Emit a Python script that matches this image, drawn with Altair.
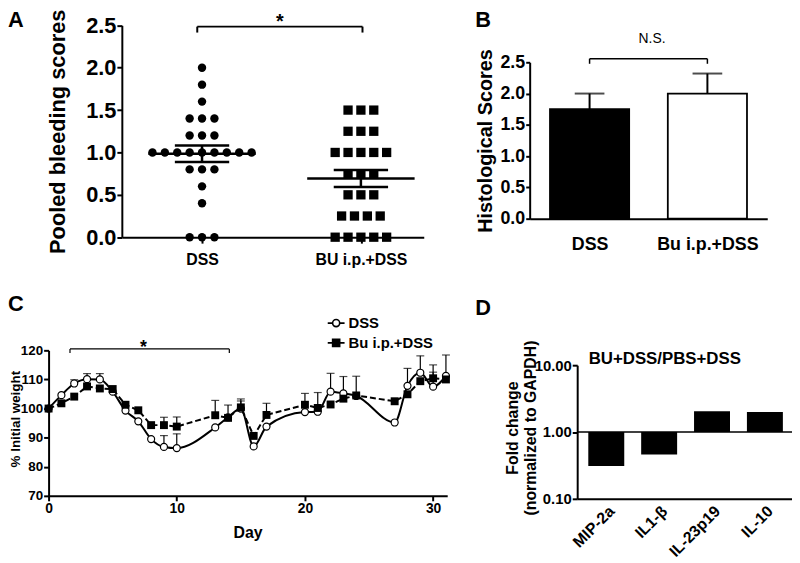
import altair as alt
import numpy as np
import pandas as pd

FONT = "Liberation Sans"
W, H = 792, 555

# ---------------- data ----------------
# Panel A: pooled bleeding scores (dot plot)
a_groups = ["DSS", "BU i.p.+DSS"]
a_dss_levels = [2.0, 1.8, 1.6, 1.4, 1.2, 1.0, 0.8, 0.6, 0.4, 0.0]
a_dss_counts = [1, 1, 1, 3, 3, 9, 3, 1, 1, 3]
a_bu_levels = [1.5, 1.25, 1.0, 0.75, 0.5, 0.25, 0.0]
a_bu_counts = [3, 3, 5, 3, 3, 4, 5]

# Panel B: histological scores
b_groups = ["DSS", "Bu i.p.+DSS"]
b_means = [1.75, 2.0]
b_sems = [0.25, 0.32]

# Panel C: % initial weight
c_series = ["DSS", "Bu i.p.+DSS"]
c_days = [0, 1, 2, 3, 4, 5, 6, 7, 8, 9, 10, 13, 14, 15, 16, 17, 20, 21, 22, 23, 24, 27, 28, 29, 30, 31]
c_dss = [100, 104.6, 108.6, 110.1, 110.0, 105.8, 99.3, 95.6, 89.5, 86.8, 86.4, 93.5, 97.0, 100.0,
         87.0, 93.8, 98.8, 98.9, 105.8, 105.2, 104.3, 95.2, 107.8, 112.3, 107.5, 111.2]
c_dss_err = [0, 0, 1.3, 1.9, 2.0, 0, 0, 0, 0, 3.9, 4.9, 0, 0, 2.6,
             0, 0, 0, 0, 6.3, 5.8, 0, 0, 6.0, 5.8, 5.0, 7.2]
c_bu = [100, 101.8, 104.1, 107.6, 106.9, 106.7, 101.3, 99.4, 94.3, 94.3, 93.8, 97.7, 96.8, 100.4,
        90.6, 97.8, 101.3, 100.2, 101.4, 103.4, 104.5, 102.5, 104.9, 109.4, 110.4, 110.0]
c_bu_err = [0, 0, 0, 0, 0, 0, 0, 0, 0, 2.7, 3.3, 5.1, 4.4, 2.9,
            0, 4.0, 3.9, 5.3, 0, 0, 6.6, 0, 0, 0, 4.6, 0]

# Panel D: fold change
d_genes = ["MIP-2a", "IL1-\u03b2", "IL-23p19", "IL-10"]
d_fold = [0.31, 0.46, 2.05, 2.0]

# ---------------- helpers ----------------
def lin(domain, rng, **kw):
    return alt.Scale(domain=domain, range=rng, nice=False, zero=False, **kw)

AXC = dict(domainColor="black", domainWidth=2, tickColor="black", tickWidth=2,
           labelColor="black", titleColor="black", labelFont=FONT, titleFont=FONT,
           grid=False, labelFontWeight="bold", titleFontWeight="bold")

layers = []

# ================= Panel A =================
AXS = lin([0.4953, 2.3956], [115, 420])
AYS = lin([0, 2.5], [228.7, 14.7])

rows = []
for gi, (levels, counts, sp) in enumerate([(a_dss_levels, a_dss_counts, 0.078),
                                           (a_bu_levels, a_bu_counts, 0.081)]):
    for lv, n in zip(levels, counts):
        for k in range(n):
            rows.append({"group": a_groups[gi], "pos": gi + 1 + (k - (n - 1) / 2) * sp, "score": lv})
a_pts = pd.DataFrame(rows)

h_rows, v_rows = [], []
for gi, g in enumerate(a_groups):
    v = a_pts.loc[a_pts.group == g, "score"].to_numpy()
    m = v.mean()
    s = v.std(ddof=1) / np.sqrt(len(v))
    p = gi + 1
    h_rows += [{"x1": p - 0.338, "x2": p + 0.338, "y": m},
               {"x1": p - 0.171, "x2": p + 0.171, "y": m + s},
               {"x1": p - 0.171, "x2": p + 0.171, "y": m - s}]
    v_rows.append({"x": p, "lo": m - s, "hi": m + s})

a_xaxis = alt.Axis(orient="bottom", offset=228.7 - H, values=[1, 2],
                   labelExpr="datum.value == 1 ? 'DSS' : 'BU i.p.+DSS'",
                   tickSize=6, labelFontSize=16, labelPadding=9, labelFlush=False, title=None, **AXC)
a_yaxis = alt.Axis(orient="left", offset=-115, values=[0, 0.5, 1.0, 1.5, 2.0, 2.5], format=".1f",
                   tickSize=5, labelPadding=1, labelFontSize=22,
                   title="Pooled bleeding scores", titleFontSize=22, titleX=-53, titleY=121.7, **AXC)

layers.append(alt.Chart(a_pts[a_pts.group == a_groups[0]]).mark_point(
    shape="circle", filled=True, color="black", size=72, opacity=1).encode(
    x=alt.X("pos:Q", scale=AXS, axis=a_xaxis),
    y=alt.Y("score:Q", scale=AYS, axis=a_yaxis)))
layers.append(alt.Chart(a_pts[a_pts.group == a_groups[1]]).mark_point(
    shape="square", filled=True, color="black", size=88, opacity=1).encode(
    x=alt.X("pos:Q", scale=AXS, axis=None),
    y=alt.Y("score:Q", scale=AYS, axis=None)))
layers.append(alt.Chart(pd.DataFrame(h_rows)).mark_rule(color="black", strokeWidth=2.5).encode(
    x=alt.X("x1:Q", scale=AXS, axis=None), x2="x2:Q",
    y=alt.Y("y:Q", scale=AYS, axis=None)))
layers.append(alt.Chart(pd.DataFrame(v_rows)).mark_rule(color="black", strokeWidth=2.5).encode(
    x=alt.X("x:Q", scale=AXS, axis=None),
    y=alt.Y("lo:Q", scale=AYS, axis=None), y2="hi:Q"))
a_br = pd.DataFrame([{"x1": 0.97, "x2": 2.01, "y1": 2.485, "y2": 2.485},
                     {"x1": 0.97, "x2": 0.97, "y1": 2.485, "y2": 2.415},
                     {"x1": 2.01, "x2": 2.01, "y1": 2.485, "y2": 2.415}])
layers.append(alt.Chart(a_br).mark_rule(color="black", strokeWidth=2).encode(
    x=alt.X("x1:Q", scale=AXS, axis=None), x2="x2:Q",
    y=alt.Y("y1:Q", scale=AYS, axis=None), y2="y2:Q"))
layers.append(alt.Chart(pd.DataFrame([{"x": 1.49, "y": 2.47, "t": "*"}])).mark_text(
    fontSize=20, fontWeight="bold", font=FONT, color="black", baseline="alphabetic").encode(
    x=alt.X("x:Q", scale=AXS, axis=None), y=alt.Y("y:Q", scale=AYS, axis=None), text="t:N"))

# ================= Panel B =================
BXS = lin([0.4916, 2.508], [527, 767])
BYS = lin([0, 2.5], [210, 52])
b_df = pd.DataFrame({"group": b_groups, "pos": [1, 2], "mean": b_means, "sem": b_sems})
b_df["lo"] = b_df["pos"] - 0.336
b_df["hi"] = b_df["pos"] + 0.336
b_df["top"] = b_df["mean"] + b_df["sem"]
b_df["zero"] = 0.0

b_xaxis = alt.Axis(orient="bottom", offset=210 - H, values=[1, 2],
                   labelExpr="datum.value == 1 ? 'DSS' : 'Bu i.p.+DSS'",
                   ticks=False, labelFontSize=18, labelPadding=17, labelFlush=False, title=None, **AXC)
b_yaxis = alt.Axis(orient="left", offset=-527, values=[0, 0.5, 1.0, 1.5, 2.0, 2.5], format=".1f",
                   tickSize=4, labelPadding=1, labelFontSize=18,
                   title="Histological Scores", titleFontSize=20, titleX=-35, titleY=131, **AXC)

layers.append(alt.Chart(b_df).mark_rule(color="black", strokeWidth=2).encode(
    x=alt.X("pos:Q", scale=BXS, axis=None),
    y=alt.Y("mean:Q", scale=BYS, axis=None), y2="top:Q"))
layers.append(alt.Chart(b_df).mark_tick(orient="horizontal", size=30, thickness=2, color="black").encode(
    x=alt.X("pos:Q", scale=BXS, axis=None),
    y=alt.Y("top:Q", scale=BYS, axis=None)))
layers.append(alt.Chart(b_df).mark_rect(stroke="black", strokeWidth=1.8).encode(
    x=alt.X("lo:Q", scale=BXS, axis=b_xaxis), x2="hi:Q",
    y=alt.Y("mean:Q", scale=BYS, axis=b_yaxis), y2="zero:Q",
    fill=alt.Fill("group:N", scale=alt.Scale(domain=b_groups, range=["black", "white"]), legend=None)))
b_br = pd.DataFrame([{"x1": 1.0, "x2": 2.0, "y1": 2.556, "y2": 2.556},
                     {"x1": 1.0, "x2": 1.0, "y1": 2.556, "y2": 2.476},
                     {"x1": 2.0, "x2": 2.0, "y1": 2.556, "y2": 2.476}])
layers.append(alt.Chart(b_br).mark_rule(color="black", strokeWidth=1.5).encode(
    x=alt.X("x1:Q", scale=BXS, axis=None), x2="x2:Q",
    y=alt.Y("y1:Q", scale=BYS, axis=None), y2="y2:Q"))
layers.append(alt.Chart(pd.DataFrame([{"x": 1.53, "y": 2.805, "t": "N.S."}])).mark_text(
    fontSize=14, font=FONT, color="black", baseline="alphabetic").encode(
    x=alt.X("x:Q", scale=BXS, axis=None), y=alt.Y("y:Q", scale=BYS, axis=None), text="t:N"))

# ================= Panel C =================
CXS = lin([0, 31.1], [41, 443.7])
CYS = lin([70, 120], [490, 343])
c_long = pd.concat([
    pd.DataFrame({"series": c_series[0], "day": c_days, "value": c_dss, "err": c_dss_err}),
    pd.DataFrame({"series": c_series[1], "day": c_days, "value": c_bu, "err": c_bu_err}),
], ignore_index=True)
c_long["top"] = c_long["value"] + c_long["err"]
c_err = c_long[c_long["err"] > 0]

c_xaxis = alt.Axis(orient="bottom", offset=490 - H, values=[0, 10, 20, 30], tickSize=5,
                   labelPadding=1, labelFontSize=14, labelFlush=False,
                   title="Day", titleFontSize=16, titleX=242, titleY=29, **AXC)
c_yaxis = alt.Axis(orient="left", offset=-41, values=[70, 80, 90, 100, 110, 120], tickSize=5,
                   labelPadding=1, labelFontSize=13.5,
                   title="% Initial weight", titleFontSize=13.5, titleX=-26.5, titleY=412, **AXC)

layers.append(alt.Chart(c_long[c_long.series == c_series[0]]).mark_line(
    color="black", strokeWidth=2, interpolate="monotone").encode(
    x=alt.X("day:Q", scale=CXS, axis=None), y=alt.Y("value:Q", scale=CYS, axis=None)))
layers.append(alt.Chart(c_long[c_long.series == c_series[1]]).mark_line(
    color="black", strokeWidth=2, strokeDash=[6, 3]).encode(
    x=alt.X("day:Q", scale=CXS, axis=None), y=alt.Y("value:Q", scale=CYS, axis=None)))
layers.append(alt.Chart(c_err).mark_rule(color="black", strokeWidth=1.2).encode(
    x=alt.X("day:Q", scale=CXS, axis=None),
    y=alt.Y("value:Q", scale=CYS, axis=None), y2="top:Q"))
layers.append(alt.Chart(c_err).mark_tick(orient="horizontal", size=8, thickness=1.2, color="black").encode(
    x=alt.X("day:Q", scale=CXS, axis=None), y=alt.Y("top:Q", scale=CYS, axis=None)))
layers.append(alt.Chart(c_long[c_long.series == c_series[0]]).mark_point(
    shape="circle", filled=True, fill="white", stroke="black", strokeWidth=1.2, size=50, opacity=1).encode(
    x=alt.X("day:Q", scale=CXS, axis=c_xaxis), y=alt.Y("value:Q", scale=CYS, axis=c_yaxis)))
layers.append(alt.Chart(c_long[c_long.series == c_series[1]]).mark_point(
    shape="square", filled=True, color="black", size=64, opacity=1).encode(
    x=alt.X("day:Q", scale=CXS, axis=None), y=alt.Y("value:Q", scale=CYS, axis=None)))

LEG_PATHS = ["M-1,0H-0.42M0.42,0H1M0.42,0A0.42,0.42,0,1,1,-0.42,0A0.42,0.42,0,1,1,0.42,0Z",
             "M-1,0H1M-0.42,-0.42H0.42V0.42H-0.42Z"]
c_leg = alt.Legend(orient="none", legendX=322, legendY=306, title=None, symbolSize=289,
                   symbolStrokeColor="black", symbolStrokeWidth=1.6, labelFontSize=15,
                   labelFontWeight="bold", labelFont=FONT, labelColor="black",
                   rowPadding=2, labelOffset=3, padding=0)
layers.append(alt.Chart(c_long).mark_point(size=0, filled=True, stroke="black", opacity=1).encode(
    x=alt.X("day:Q", scale=CXS, axis=None), y=alt.Y("value:Q", scale=CYS, axis=None),
    shape=alt.Shape("series:N", scale=alt.Scale(domain=c_series, range=LEG_PATHS), legend=c_leg),
    fill=alt.Fill("series:N", scale=alt.Scale(domain=c_series, range=["white", "black"]), legend=c_leg),
    stroke=alt.Stroke("series:N", scale=alt.Scale(domain=c_series, range=["black", "black"]), legend=c_leg)))

c_br = pd.DataFrame([{"x1": 1.67, "x2": 14.1, "y1": 120.5, "y2": 120.5},
                     {"x1": 1.67, "x2": 1.67, "y1": 120.5, "y2": 119.1},
                     {"x1": 14.1, "x2": 14.1, "y1": 120.5, "y2": 119.1}])
layers.append(alt.Chart(c_br).mark_rule(color="black", strokeWidth=1.2).encode(
    x=alt.X("x1:Q", scale=CXS, axis=None), x2="x2:Q",
    y=alt.Y("y1:Q", scale=CYS, axis=None), y2="y2:Q"))
layers.append(alt.Chart(pd.DataFrame([{"x": 7.4, "y": 119.0, "t": "*"}])).mark_text(
    fontSize=18, fontWeight="bold", font=FONT, color="black", baseline="alphabetic").encode(
    x=alt.X("x:Q", scale=CXS, axis=None), y=alt.Y("y:Q", scale=CYS, axis=None), text="t:N"))

# ================= Panel D =================
DXS = alt.Scale(domain=d_genes, range=[575, 794], paddingInner=0.32, paddingOuter=0.21)
DYS = alt.Scale(type="log", domain=[0.1, 10], range=[493, 358], nice=False)
d_df = pd.DataFrame({"gene": d_genes, "fold": d_fold})

d_xaxis = alt.Axis(orient="bottom", offset=493 - H, ticks=False, labelAngle=-45,
                   labelFontSize=16, labelPadding=4, title=None, **AXC)
d_yaxis = alt.Axis(orient="left", offset=-575, values=[0.1, 1, 10], format=".2f", tickSize=5,
                   labelPadding=1, labelFontSize=15,
                   title=["Fold change", "(normalized to GAPDH)"], titleFontSize=16,
                   titleLineHeight=18, titleX=-57, titleY=421, **AXC)

layers.append(alt.Chart(d_df).mark_bar(color="black").encode(
    x=alt.X("gene:N", scale=DXS, sort=d_genes, axis=d_xaxis),
    y=alt.Y("fold:Q", scale=DYS, axis=d_yaxis), y2=alt.datum(1)))
layers.append(alt.Chart(pd.DataFrame([{"a": 0.0, "b": 1.0, "one": 1.0}])).mark_rule(
    color="black", strokeWidth=1.5).encode(
    x=alt.X("a:Q", scale=lin([0, 1], [575, 794]), axis=None), x2="b:Q",
    y=alt.Y("one:Q", scale=DYS, axis=None)))
layers.append(alt.Chart(pd.DataFrame([{"t": "BU+DSS/PBS+DSS"}])).mark_text(
    fontSize=17, fontWeight="bold", font=FONT, color="black", baseline="alphabetic", align="center").encode(
    x=alt.value(663.5), y=alt.value(357), text="t:N"))

# ================= panel letters =================
for letter, px, py in [("A", 0, 16), ("B", 472, 16), ("C", 0, 303.7), ("D", 472, 307)]:
    layers.append(alt.Chart(pd.DataFrame([{"t": letter}])).mark_text(
        fontSize=22, fontWeight="bold", font=FONT, color="black", align="left", baseline="alphabetic").encode(
        x=alt.value(px), y=alt.value(py), text="t:N"))

chart = alt.layer(*layers).resolve_scale(
    x="independent", y="independent", shape="independent", fill="independent", stroke="independent"
).resolve_axis(x="independent", y="independent").properties(
    width=W, height=H, padding=0, autosize=alt.AutoSizeParams(type="none")
).configure(font=FONT).configure_view(stroke=None).configure_axis(grid=False)

chart.save("out.html", embed_options={"renderer": "svg", "actions": False})
